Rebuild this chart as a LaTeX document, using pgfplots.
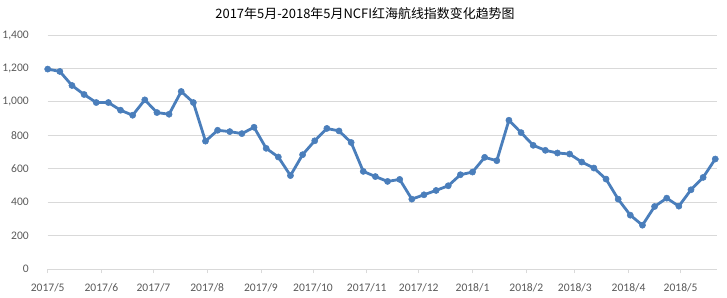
\documentclass[border=0pt]{standalone}
\usepackage{pgfplots}
\pgfplotsset{compat=1.18}
\usepackage{fontspec}
\setmainfont{Carlito}
\newfontfamily\cjk{Noto Sans CJK SC}
\definecolor{linec}{HTML}{4A7EBB}
\definecolor{gridc}{HTML}{D9D9D9}
\definecolor{labc}{HTML}{595959}
\begin{document}
\begin{tikzpicture}
\begin{axis}[
  name=ax,
  scale only axis,
  width=669.3bp, height=234bp,
  xmin=0, xmax=386, ymin=0, ymax=1400,
  clip=false,
  axis x line=bottom, axis y line=left,
  x axis line style={-, gridc, line width=0.75bp},
  y axis line style={draw=none},
  ytick={0,200,...,1400},
  xtick={0,31,61,92,123,153,184,214,245,276,304,335,365},
  xticklabels={2017/5,2017/6,2017/7,2017/8,2017/9,2017/10,2017/11,2017/12,2018/1,2018/2,2018/3,2018/4,2018/5},
  ymajorgrids, grid style={gridc, line width=0.75bp},
  tick align=outside,
  major tick length=4bp,
  xtick style={gridc, line width=0.75bp},
  ytick style={draw=none},
  scaled y ticks=false,
  /pgf/number format/assume math mode=true,
  /pgf/number format/fixed,
  /pgf/number format/1000 sep={,},
  xticklabel style={font=\fontsize{11.6}{12}\selectfont, text=labc, anchor=base, inner sep=0pt, yshift=-18bp},
  yticklabel style={font=\fontsize{11.6}{12}\selectfont, text=labc, anchor=east, inner sep=0pt, xshift=-14.7bp},
]
\addplot[color=linec, line width=2.8bp, mark=*, mark size=3.1bp, mark options={fill=linec, draw=linec, line width=0.5bp}] coordinates {
(0,1196) (7,1182) (14,1098) (21,1044) (28,996) (35,996) (42,950) (49,920)
(56,1012) (63,936) (70,926) (77,1062) (84,996) (91,765) (98,830) (105,822)
(112,810) (119,848) (126,722) (133,670) (140,559) (147,684) (154,767) (161,841)
(168,826) (175,757) (182,584) (189,553) (196,524) (203,536) (210,418) (217,444)
(224,470) (231,498) (238,564) (245,580) (252,668) (259,648) (266,890) (273,816)
(280,740) (287,710) (294,694) (301,688) (308,640) (315,604) (322,538) (329,418)
(336,322) (343,262) (350,374) (357,424) (364,376) (371,474) (378,548) (385,658)
};
\node[font=\cjk\fontsize{13}{15}\selectfont, anchor=center, inner sep=0pt] at (rel axis cs:0.4741,1.0897) {2017年5月-2018年5月NCFI红海航线指数变化趋势图};
\end{axis}
\pgfresetboundingbox
\path[use as bounding box] (-47.7bp,-29bp) rectangle (679.3bp,269bp);
\end{tikzpicture}
\end{document}
